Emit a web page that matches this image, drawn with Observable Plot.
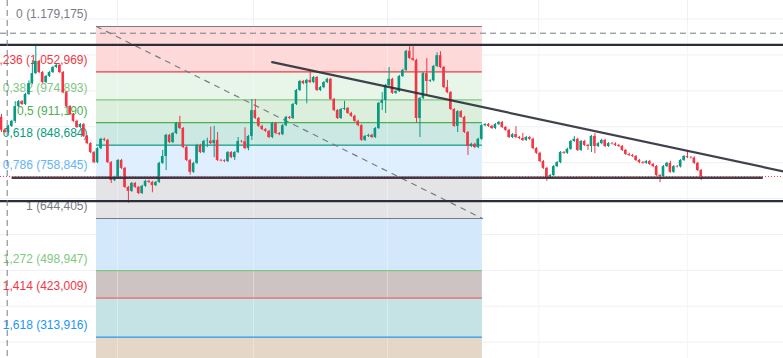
<!DOCTYPE html>
<html><head><meta charset="utf-8">
<script src="https://cdn.jsdelivr.net/npm/d3@7"></script>
<script src="https://cdn.jsdelivr.net/npm/@observablehq/plot@0.6"></script>
<style>html,body{margin:0;padding:0;background:#fff;overflow:hidden}#chart svg{display:block}</style>
</head><body><div id="chart"></div>
<script>
// Prices in thousands
const firstOpen = 926;
const closes = [
890,884,901,915,956,970,962,990,1020,1048,
1082,1051,1023,1040,1051,1065,1071,1051,995,956,
934,915,898,906,873,853,828,800,839,865,
862,800,750,759,806,784,731,720,742,731,
714,734,748,745,736,745,798,817,876,856,
881,909,895,842,806,773,798,848,828,859,
860,853,862,806,805,803,828,814,828,859,
858,839,873,945,923,901,892,887,870,909,
881,878,903,926,923,962,1001,1026,1020,1029,
1023,1037,1001,1009,1023,1032,976,945,923,948,
951,937,929,915,903,862,873,876,870,895,
965,973,1015,1032,993,998,1040,1057,1110,1090,
1085,923,979,1048,1026,1028,1068,1098,1065,1009,
995,948,901,942,926,884,845,851,842,865,
903,906,901,895,906,912,898,890,870,878,
870,867,862,870,865,839,826,803,784,756,
764,789,800,828,826,837,859,865,834,859,
848,845,873,845,853,862,845,853,852,848,
845,834,823,820,817,806,800,798,803,795,
789,764,761,789,798,773,789,788,806,817,
814,813,798,778,761
];
const upWick = [
8,3,3,3,14,3,3,3,8,36,
45,3,3,3,3,3,3,3,3,3,
3,3,3,3,3,3,3,3,3,3,
3,3,3,3,3,3,3,3,3,3,
3,3,3,3,3,3,3,17,3,3,
3,3,20,3,3,3,3,3,3,3,
8,39,39,22,3,3,3,3,3,11,
3,39,3,31,31,3,3,3,3,3,
3,3,3,3,3,3,3,3,3,3,
28,3,3,3,3,3,3,3,3,3,
20,3,3,3,3,3,3,3,3,3,
3,22,3,33,3,3,3,3,3,14,
33,3,3,3,42,3,3,8,11,3,
20,3,3,3,3,3,3,3,3,3,
3,3,3,3,3,3,3,3,3,3,
22,3,14,3,3,3,3,3,3,3,
3,3,3,3,3,3,3,8,3,3,
3,3,3,8,3,3,3,3,3,3,
3,3,3,3,3,3,3,3,3,3,
3,3,3,3,3,6,3,3,3,3,
14,3,3,3,3
];
const downWick = [
6,3,3,3,6,3,3,3,3,3,
3,3,3,3,3,3,3,3,3,3,
3,3,3,3,3,3,3,3,3,3,
3,3,8,3,3,3,3,33,3,3,
3,3,3,3,20,3,3,3,39,3,
3,3,3,3,3,8,3,3,3,3,
17,3,39,3,3,3,3,3,8,3,
3,3,6,11,3,3,3,3,3,3,
3,3,3,3,3,3,3,3,3,56,
3,3,3,3,3,3,3,3,3,3,
3,3,3,3,3,3,3,3,3,3,
3,20,36,3,3,3,3,3,3,3,
3,14,53,3,39,3,3,3,3,3,
3,3,3,17,3,3,25,3,3,3,
3,3,3,3,3,3,3,3,3,3,
3,3,3,3,3,3,3,3,3,8,
3,3,3,3,3,3,3,3,3,3,
3,11,17,20,3,3,3,3,3,3,
3,3,3,3,3,3,3,3,3,3,
3,3,17,3,3,3,3,3,3,3,
3,3,3,3,11
];

// Fibonacci retracement
const fibLabels = ["0 (1.179,175)","0,236 (1,052,969)","0,382 (974,893)","0,5 (911,190)","0,618 (848,684)","0,786 (758,845)","1 (644,405)","1,272 (498,947)","1,414 (423,009)","1,618 (313,916)"];
const fibPrices = [1179175,1052969,974893,911190,848684,758845,644405,498947,423009,313916];
const fibNextPrice = -220852; // 2.618 level (off-chart)
const fibLineColors = ["#787b86","#f23645","#81c784","#4caf50","#089981","#64b5f6","#787b86","#81c784","#f23645","#2196f3"];
const fibBandColors = ["#fdd9da","#e8f5e9","#dcefdc","#cce8e3","#e0effd","#e4e4e6","#d4e8fb","#cdc3c3","#c5e3e4","#e4d7c8"];
const fibAnchorBars = [27.7, 140.2];

// Other drawings
const gridPrices = [300,400,500,600,700,800,900,1000,1100,1200];
const gridBars = [33.8, 73.5, 112.5, 156.6, 200];
const fullLines = [1128.2, 692.6];
const supportPrice = 757.8;
const supportBars = [3.1, 222.1];
const lastPrice = 761.5;
const trendBars = [78.9, 228];
const trendPrices = [1079.8, 775.6];
const crossBar = 1.66;
const crossPrice = 1160.5;

// Build tables
const candles = closes.map((c, i) => {
  const o = i === 0 ? firstOpen : closes[i - 1];
  return {i, o, c, h: Math.max(o, c) + upWick[i], l: Math.min(o, c) - downWick[i], up: c >= o};
});
const fib = fibPrices.map((p, k) => ({
  label: fibLabels[k], p: p / 1000,
  next: (k + 1 < fibPrices.length ? fibPrices[k + 1] : fibNextPrice) / 1000,
  line: fibLineColors[k], band: fibBandColors[k]
}));
const fibBands = fib.slice(0, fib.length).map((d, k) => ({y1: d.p, y2: d.next, fill: fibBandColors[k]}));
const [fx1, fx2] = fibAnchorBars;

const GREEN = "#089981", RED = "#f23645", DARK = "#2a2e39";

const chart = Plot.plot({
  width: 783, height: 358,
  margin: 0,
  style: {background: "#ffffff", fontFamily: "'Liberation Sans', Arial, sans-serif"},
  x: {domain: [-0.2915, 227.99], axis: null},
  y: {domain: [254.47, 1251.59], axis: null},
  marks: [
    Plot.ruleY(gridPrices, {stroke: "#eef0f5", strokeWidth: 1}),
    Plot.ruleX(gridBars, {stroke: "#eef0f5", strokeWidth: 1}),
    Plot.rect(fibBands, {x1: () => fx1, x2: () => fx2, y1: "y1", y2: "y2", fill: "fill", clip: true}),
    Plot.ruleX(gridBars, {y1: 254.47, y2: 1179.175, x: d => d, stroke: "#ffffff", strokeOpacity: 0.35, strokeWidth: 1}),
    Plot.ruleY(fib, {y: "p", x1: () => fx1, x2: () => fx2, stroke: "line", strokeWidth: 1.2}),
    Plot.text(fib, {x: () => fx1, y: "p", text: "label", fill: "line", textAnchor: "end", dx: -9, dy: -12, fontSize: 12, fontFamily: "'Liberation Sans', Arial, sans-serif"}),
    Plot.line([{x: fx1, y: fibPrices[0] / 1000}, {x: fx2, y: fibPrices[6] / 1000}], {x: "x", y: "y", stroke: "#787b86", strokeWidth: 1.2, strokeDasharray: "5,6"}),
    Plot.ruleX(candles, {x: "i", y1: "l", y2: "h", stroke: d => d.up ? GREEN : RED, strokeWidth: 1}),
    Plot.rect(candles, {x1: d => d.i - 0.38, x2: d => d.i + 0.38, y1: "o", y2: "c", fill: d => d.up ? GREEN : RED}),
    Plot.ruleY(fullLines, {stroke: DARK, strokeWidth: 2.2}),
    Plot.ruleY([supportPrice], {x1: supportBars[0], x2: supportBars[1], stroke: DARK, strokeWidth: 2.4, strokeOpacity: 0.9}),
    Plot.ruleY([lastPrice], {stroke: RED, strokeWidth: 1, strokeDasharray: "1,2"}),
    Plot.line([{x: trendBars[0], y: trendPrices[0]}, {x: trendBars[1], y: trendPrices[1]}], {x: "x", y: "y", stroke: DARK, strokeWidth: 2.2, strokeOpacity: 0.9}),
    Plot.ruleX([crossBar], {stroke: "#787b86", strokeWidth: 1, strokeDasharray: "6,4"}),
    Plot.ruleY([crossPrice], {stroke: "#787b86", strokeWidth: 1, strokeDasharray: "6,4"})
  ]
});
document.getElementById("chart").appendChild(chart);
</script>
</body></html>
